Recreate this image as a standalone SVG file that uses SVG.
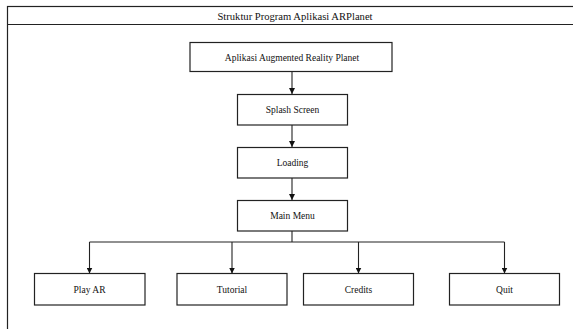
<svg xmlns="http://www.w3.org/2000/svg" width="573" height="329" viewBox="0 0 573 329">
<style>
.box{fill:#fff;stroke:#222;stroke-width:1.2}
.lbl{font-family:"Liberation Serif","Times New Roman",serif;font-size:9.5px;fill:#111;text-anchor:middle}
.title{font-size:10.6px}
.con{fill:none;stroke:#222;stroke-width:1.1}
.frame{fill:#fff;stroke:#222;stroke-width:1.2}
</style>
<defs>
<marker id="ah" viewBox="0 0 6 6" refX="6" refY="3" markerWidth="6" markerHeight="6" markerUnits="userSpaceOnUse" orient="auto">
<path d="M0,0 L6,3 L0,6 Z" fill="#111"/>
</marker>
</defs>
<g id="frame">
<rect class="frame" x="7.5" y="6.5" width="600" height="400"/>
<line x1="7.5" y1="24.5" x2="600" y2="24.5" stroke="#222" stroke-width="1.2"/>
<text class="lbl title" x="295" y="19.5">Struktur Program Aplikasi ARPlanet</text>
</g>
<g id="connectors">
<line class="con" x1="292" y1="71.5" x2="292" y2="94" marker-end="url(#ah)"/>
<line class="con" x1="292" y1="125" x2="292" y2="147" marker-end="url(#ah)"/>
<line class="con" x1="292" y1="178" x2="292" y2="200" marker-end="url(#ah)"/>
<line class="con" x1="292" y1="231" x2="292" y2="242" stroke-width="1.6"/>
<line class="con" x1="89.5" y1="242" x2="504.5" y2="242"/>
<line class="con" x1="89.5" y1="242" x2="89.5" y2="273.5" marker-end="url(#ah)"/>
<line class="con" x1="232" y1="242" x2="232" y2="273.5" marker-end="url(#ah)"/>
<line class="con" x1="358.5" y1="242" x2="358.5" y2="273.5" marker-end="url(#ah)"/>
<line class="con" x1="504.5" y1="242" x2="504.5" y2="273.5" marker-end="url(#ah)"/>
</g>
<g id="n-app">
<rect class="box" x="190" y="42.5" width="202" height="29"/>
<text class="lbl" x="292" y="60.5">Aplikasi Augmented Reality Planet</text>
</g>
<g id="n-splash">
<rect class="box" x="237.5" y="94.5" width="110" height="30.5"/>
<text class="lbl" x="292.5" y="113">Splash Screen</text>
</g>
<g id="n-loading">
<rect class="box" x="237.5" y="147.5" width="110" height="30.5"/>
<text class="lbl" x="292.5" y="166">Loading</text>
</g>
<g id="n-mainmenu">
<rect class="box" x="237.5" y="200.5" width="110" height="30.5"/>
<text class="lbl" x="292.5" y="219">Main Menu</text>
</g>
<g id="n-playar">
<rect class="box" x="34.5" y="273.5" width="110.5" height="31.5"/>
<text class="lbl" x="89.5" y="292.5">Play AR</text>
</g>
<g id="n-tutorial">
<rect class="box" x="177" y="273.5" width="110" height="31.5"/>
<text class="lbl" x="232" y="292.5">Tutorial</text>
</g>
<g id="n-credits">
<rect class="box" x="303.5" y="273.5" width="110" height="31.5"/>
<text class="lbl" x="358.5" y="292.5">Credits</text>
</g>
<g id="n-quit">
<rect class="box" x="449.5" y="273.5" width="110" height="31.5"/>
<text class="lbl" x="504.5" y="292.5">Quit</text>
</g>
</svg>
